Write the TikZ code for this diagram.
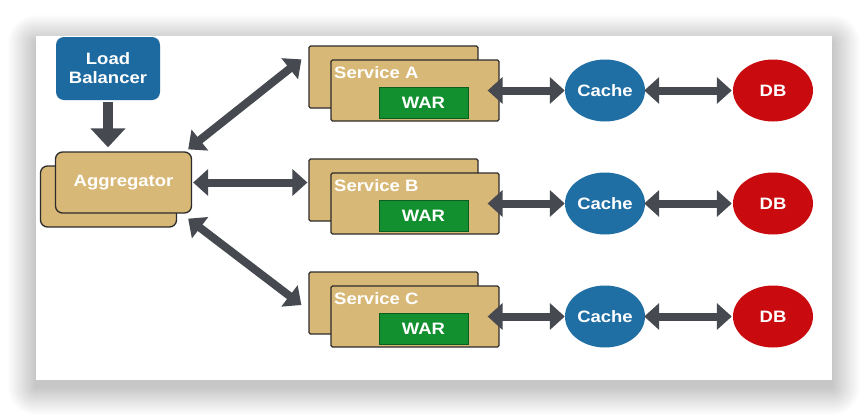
\documentclass[tikz,border=0pt]{standalone}
\usepackage{fontspec}
\setmainfont{Liberation Sans}[FakeStretch=1.12]
\usetikzlibrary{arrows.meta,shapes.geometric}

\definecolor{lbblue}{HTML}{1D6AA0}
\definecolor{cacheblue}{HTML}{1F6EA4}
\definecolor{dbred}{HTML}{C90A0E}
\definecolor{tan}{HTML}{D8B877}
\definecolor{edge}{HTML}{2C2C2C}
\definecolor{wargreen}{HTML}{12902F}
\definecolor{wargreenedge}{HTML}{0B5E1F}
\definecolor{arrowgray}{HTML}{464A50}

\tikzset{
  label text/.style={text=white, font=\fontsize{16.5}{19}\selectfont\bfseries},
  lbbox/.style={label text, rectangle, rounded corners=8pt, fill=lbblue,
    minimum width=104pt, minimum height=63pt, inner sep=0pt, align=center},
  aggbox/.style={rectangle, rounded corners=7pt, fill=tan, draw=edge,
    line width=1.3pt, minimum width=136pt, minimum height=61pt, inner sep=0pt},
  svcback/.style={rectangle, rounded corners=1.5pt, fill=tan, draw=edge,
    line width=1.2pt, minimum width=169pt, minimum height=62pt, inner sep=0pt},
  svcfront/.style={svcback, minimum width=168pt, minimum height=61pt},
  svclabel/.style={label text, inner sep=0pt},
  warbox/.style={label text, rectangle, fill=wargreen, draw=wargreenedge,
    line width=1pt, minimum width=89pt, minimum height=31pt, inner sep=0pt},
  cachenode/.style={label text, ellipse, fill=cacheblue, minimum width=80pt,
    minimum height=62pt, inner sep=0pt},
  dbnode/.style={label text, ellipse, fill=dbred, minimum width=80pt,
    minimum height=62pt, inner sep=0pt},
  biarrow/.style={draw=arrowgray, line width=8pt,
    {Triangle[length=15pt,width=26pt]}-{Triangle[length=15pt,width=26pt]}},
  downarrow/.style={draw=arrowgray, line width=10pt,
    -{Triangle[length=19pt,width=34pt]}},
}

\begin{document}
\begin{tikzpicture}[x=1pt,y=-1pt]
\useasboundingbox (0,0) rectangle (868,416);
\fill[white] (0,0) rectangle (868,416);

% soft drop shadow behind the card, built from faint widening layers
\foreach \i in {1,...,28} {
  \fill[black, opacity=0.0065, rounded corners=\i pt]
    (36-\i,36+7-\i) rectangle (832+\i,380+7+\i);
}
% the card
\fill[white] (36,36) rectangle (832,380);

% load balancer and aggregator
\node[lbbox] (lb) at (108,68.5) {Load\\Balancer};
\node[aggbox] (aggback) at (108.5,196.5) {};
\node[aggbox, label text] (agg) at (123.5,182.5) {Aggregator};

% one row per service: service, cache, database
\foreach \s/\y in {A/46,B/159,C/272} {
  \node[svcback] (svcback\s) at (393.5,\y+31) {};
  \node[svcfront] (svc\s) at (415,\y+44.5) {};
  \node[svclabel, anchor=west] (svclbl\s) at (334,\y+27) {Service \s};
  \node[warbox] (war\s) at (423.5,\y+56.5) {WAR};
  \node[cachenode] (cache\s) at (605,\y+44.5) {Cache};
  \node[dbnode] (db\s) at (773,\y+44.5) {DB};
  \draw[biarrow] ([xshift=-12pt]svc\s.east) -- (cache\s.west);
  \draw[biarrow] ([xshift=-1pt]cache\s.east) -- ([xshift=-1pt]db\s.west);
}

% connectors from the aggregator
\draw[downarrow, shorten >=4pt, shorten <=2pt] (lb.south) -- (lb.south |- agg.north);
\draw[biarrow] ([xshift=-4pt,yshift=2pt]agg.north east)
  -- ([xshift=-7pt,yshift=-14pt]svcbackA.north west);
\draw[biarrow] ([xshift=1pt]agg.east) -- ([xshift=-1pt]agg.east -| svcbackB.west);
\draw[biarrow] ([xshift=-4pt,yshift=-5pt]agg.south east)
  -- ([xshift=-7pt,yshift=-2pt]svcbackC.west);
\end{tikzpicture}
\end{document}
